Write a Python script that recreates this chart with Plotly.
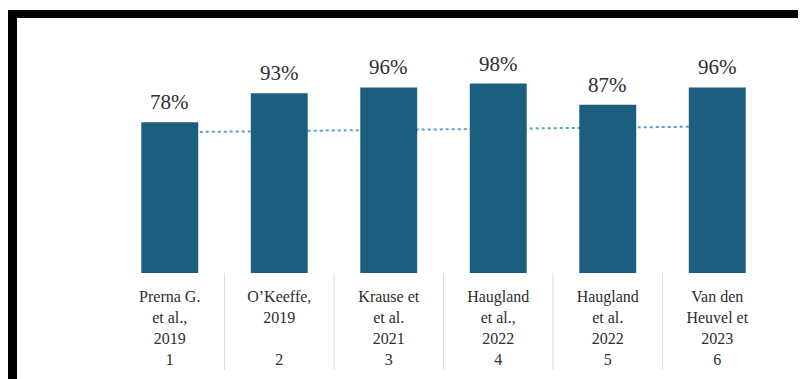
import plotly.graph_objects as go

# ---- data ----
study_numbers = ["1", "2", "3", "4", "5", "6"]
study_names = [
    "Prerna G.<br>et al.,<br>2019",
    "O’Keeffe,<br>2019<br> ",
    "Krause et<br>et al.<br>2021",
    "Haugland<br>et al.,<br>2022",
    "Haugland<br>et al.<br>2022",
    "Van den<br>Heuvel et<br>2023",
]
accuracy_pct = [78, 93, 96, 98, 87, 96]
# dotted reference line (start and end values)
ref_line_values = [72.8, 75.8]

categories = [f"{n}<br>{k}" for n, k in zip(study_names, study_numbers)]
ref_line_x = [categories[0], categories[-1]]

BAR_COLOR = "#1b5e7e"
SERIF = "Liberation Serif, Times New Roman, serif"
TEXT = "#2e2e2e"
GRID = "#dcdcdc"

# page has an 8px body margin, so the figure is drawn 8px in from the corner
W, H = 798, 371
L, R, T, B = 107, 34, 33, 106
PW, PH = W - L - R, H - T - B


def px_x(p):
    return (p - L) / PW


def px_y(p):
    return (H - B - p) / PH


fig = go.Figure()

fig.add_trace(go.Bar(
    x=categories,
    y=accuracy_pct,
    marker=dict(color=BAR_COLOR, line=dict(width=0)),
    showlegend=False,
    hoverinfo="skip",
    zorder=1,
))

fig.add_trace(go.Scatter(
    x=ref_line_x,
    y=ref_line_values,
    mode="lines",
    line=dict(color="#5aa2c4", width=2, dash="dot"),
    hoverinfo="skip",
    showlegend=False,
    zorder=0,
))

# value labels above bars
for c, v in zip(categories, accuracy_pct):
    fig.add_annotation(
        x=c, y=v, text=f"{v}%", showarrow=False,
        yanchor="bottom", yshift=6,
        font=dict(family=SERIF, size=21, color=TEXT),
    )

# column dividers between categories
for i in range(len(categories) - 1):
    fig.add_shape(type="line", xref="x", yref="paper",
                  x0=i + 0.5, x1=i + 0.5, y0=0, y1=px_y(362),
                  line=dict(color=GRID, width=1), layer="below")

# black frame (top and left bands)
fig.add_shape(type="rect", xref="paper", yref="paper",
              x0=px_x(0), x1=px_x(W + 5), y0=px_y(10), y1=px_y(2),
              fillcolor="black", line=dict(width=0), layer="above")
fig.add_shape(type="rect", xref="paper", yref="paper",
              x0=px_x(0), x1=px_x(9), y0=px_y(H + 5), y1=px_y(2),
              fillcolor="black", line=dict(width=0), layer="above")

fig.update_layout(
    width=W, height=H,
    margin=dict(l=L, r=R, t=T, b=B, pad=0),
    paper_bgcolor="white",
    plot_bgcolor="white",
    bargap=0.48,
    font=dict(family=SERIF, size=16, color=TEXT),
    xaxis=dict(
        type="category",
        showline=True, linecolor=GRID, linewidth=1,
        showgrid=False, ticks="",
        ticklabelstandoff=9,
        tickfont=dict(family=SERIF, size=16, color=TEXT),
        automargin=False,
    ),
    yaxis=dict(
        range=[0, 120], visible=False, showgrid=False, zeroline=False,
    ),
)

fig.write_html("out.html")
